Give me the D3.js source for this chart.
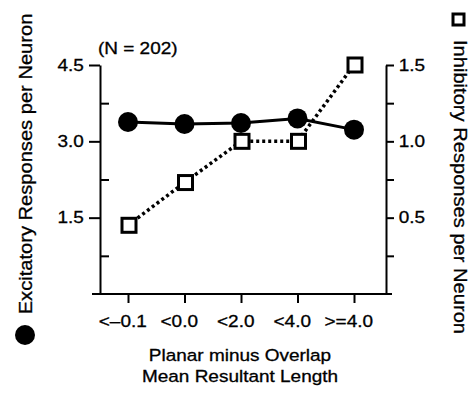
<!DOCTYPE html>
<html>
<head>
<meta charset="utf-8">
<script src="https://cdn.jsdelivr.net/npm/d3@7"></script>
<style>
  body { margin: 0; background: #fff; }
  svg text { font-family: "Liberation Sans", Arial, sans-serif; fill: #000; stroke: #000; stroke-width: 0.3px; }
</style>
</head>
<body>
<svg class="chart"></svg>
<script>
const width = 469;
const height = 394;

const categories = ["<–0.1", "<0.0", "<2.0", "<4.0", ">=4.0"];
const excitatory = [3.38, 3.34, 3.36, 3.45, 3.23];
const inhibitory = [0.45, 0.73, 1.0, 1.0, 1.5];

const leftTicks = [1.5, 3.0, 4.5];
const leftMinorTicks = [0.75, 2.25, 3.75];
const rightTicks = [0.25, 0.5, 0.75, 1.0, 1.25, 1.5];

const stretch = 1.15;

const plotLeft = 100;
const plotRight = 386;
const plotTop = 65;
const plotBottom = 294;

const svg = d3.select('svg.chart')
    .attr('width', width)
    .attr('height', height);

const x = d3.scalePoint()
    .domain(categories)
    .range([128, 354]);

const yLeft = d3.scaleLinear()
    .domain([0, 4.5])
    .range([plotBottom, plotTop]);

const yRight = d3.scaleLinear()
    .domain([0, 1.5])
    .range([plotBottom, plotTop]);

// left axis, labelled ticks point out, minor ticks point in
svg.append('g')
    .attr('transform', `translate(${plotLeft},0)`)
    .call(d3.axisLeft(yLeft)
        .tickValues(leftTicks)
        .tickSize(11)
        .tickSizeOuter(0)
        .tickPadding(3)
        .tickFormat(d3.format('.1f')));

svg.append('g')
    .attr('transform', `translate(${plotLeft},0)`)
    .call(d3.axisRight(yLeft)
        .tickValues(leftMinorTicks)
        .tickSize(9)
        .tickFormat(''))
    .call(g => g.select('.domain').remove());

// right axis
svg.append('g')
    .attr('transform', `translate(${plotRight},0)`)
    .call(d3.axisRight(yRight)
        .tickValues(rightTicks)
        .tickSize(8)
        .tickSizeOuter(0)
        .tickPadding(3)
        .tickFormat(d => (d * 2) % 1 === 0 ? d.toFixed(1) : ''));

// x axis
const xAxis = svg.append('g')
    .attr('transform', `translate(0,${plotBottom})`)
    .call(d3.axisBottom(x)
        .tickSize(9)
        .tickPadding(12))
    .call(g => g.select('.domain').remove());

xAxis.append('line')
    .attr('x1', plotLeft - 8)
    .attr('x2', plotRight + 6);

svg.selectAll('.domain, .tick line, g line')
    .attr('stroke', 'black')
    .attr('stroke-width', 2);

svg.selectAll('.tick text')
    .attr('font-size', 16.5)
    .attr('transform', `scale(${stretch},1)`)
    .style('font-family', '"Liberation Sans", Arial, sans-serif');

xAxis.selectAll('.tick text').attr('dx', -5);

// inhibitory series, dotted
svg.append('path')
    .datum(inhibitory)
    .attr('fill', 'none')
    .attr('stroke', 'black')
    .attr('stroke-width', 3.5)
    .attr('stroke-dasharray', '3,3')
    .attr('d', d3.line()
        .x((d, i) => x(categories[i]))
        .y(d => yRight(d)));

// excitatory series, solid
svg.append('path')
    .datum(excitatory)
    .attr('fill', 'none')
    .attr('stroke', 'black')
    .attr('stroke-width', 3)
    .attr('d', d3.line()
        .x((d, i) => x(categories[i]))
        .y(d => yLeft(d)));

svg.selectAll('circle.exc')
    .data(excitatory)
    .join('circle')
    .attr('class', 'exc')
    .attr('cx', (d, i) => x(categories[i]))
    .attr('cy', d => yLeft(d))
    .attr('r', 10)
    .attr('fill', 'black');

const sq = 14;
svg.selectAll('rect.inh')
    .data(inhibitory)
    .join('rect')
    .attr('class', 'inh')
    .attr('x', (d, i) => x(categories[i]) - sq / 2 + 1)
    .attr('y', d => yRight(d) - sq / 2)
    .attr('width', sq)
    .attr('height', sq)
    .attr('fill', 'white')
    .attr('stroke', 'black')
    .attr('stroke-width', 3);

// texts
function addText(tx, ty, rot, str, size, anchor) {
    svg.append('text')
        .attr('transform', `translate(${tx},${ty}) rotate(${rot}) scale(${stretch},1)`)
        .attr('text-anchor', anchor)
        .attr('font-size', size)
        .text(str);
}

addText(98, 54, 0, '(N = 202)', 16.5, 'start');
addText(240, 361, 0, 'Planar minus Overlap', 16.5, 'middle');
addText(240, 382, 0, 'Mean Resultant Length', 16.5, 'middle');
addText(32, 164, -90, 'Excitatory Responses per Neuron', 17.5, 'middle');
addText(454, 187, 90, 'Inhibitory Responses per Neuron', 17.5, 'middle');

// legend symbols
svg.append('circle')
    .attr('cx', 25)
    .attr('cy', 335)
    .attr('r', 10)
    .attr('fill', 'black');

svg.append('rect')
    .attr('x', 453)
    .attr('y', 14)
    .attr('width', 11)
    .attr('height', 11)
    .attr('fill', 'white')
    .attr('stroke', 'black')
    .attr('stroke-width', 3);
</script>
</body>
</html>
